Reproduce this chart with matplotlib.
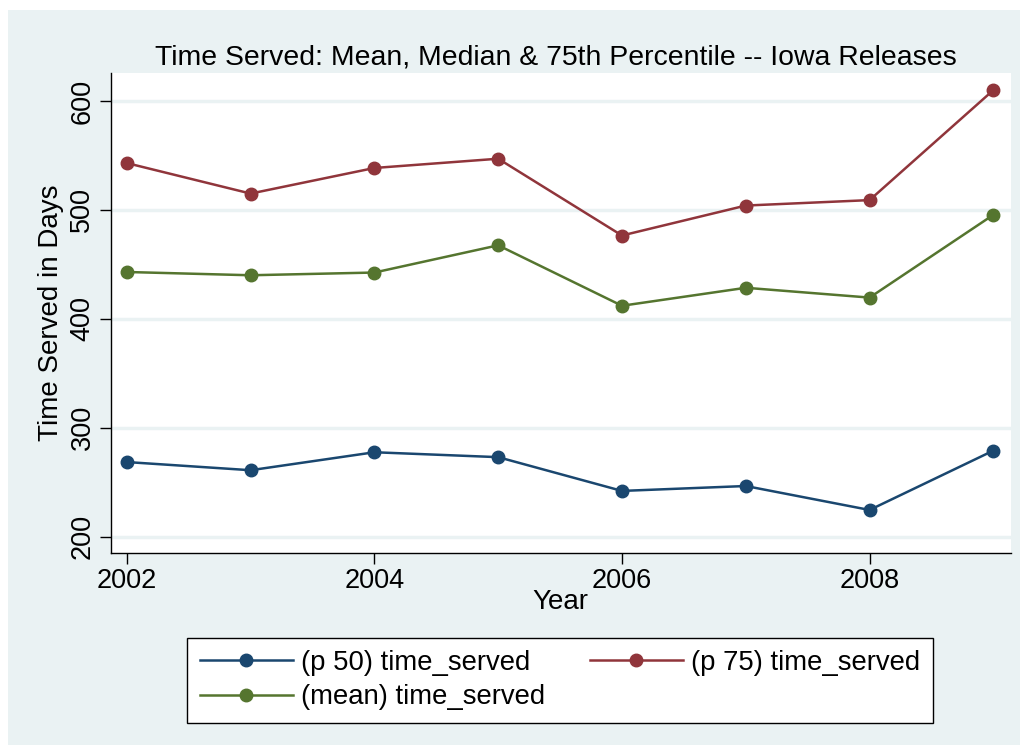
import numpy as np
import matplotlib.pyplot as plt
from matplotlib.patches import Rectangle

years = [2002, 2003, 2004, 2005, 2006, 2007, 2008, 2009]
p50 = [268.5, 261, 277.5, 273, 242, 246.5, 224.5, 279]
p75 = [543, 515, 538.5, 547, 476.5, 504, 509, 610]
mean_ts = [443, 440, 442.5, 467.5, 412, 428.5, 419.5, 495.5]

navy = '#1a476f'
maroon = '#90353b'
green = '#55752f'
bg = '#eaf2f3'

plt.rcParams['font.family'] = ['Liberation Sans', 'DejaVu Sans']

fig = plt.figure(figsize=(10.23, 7.51), dpi=100)
fig.patch.set_facecolor('white')
# stata-like outer graph region
fig.patches.append(Rectangle((8 / 1023, 1 - 745 / 751), (1020 - 8) / 1023, (745 - 10) / 751,
                             transform=fig.transFigure, facecolor=bg, edgecolor='none', zorder=-1))

ax = fig.add_axes([110.7 / 1023, 1 - 553 / 751, (1010.7 - 110.7) / 1023, (553 - 73) / 751])
ax.set_facecolor('white')

l50, = ax.plot(years, p50, '-o', color=navy, lw=1.8, ms=9, label='(p 50) time_served')
l75, = ax.plot(years, p75, '-o', color=maroon, lw=1.8, ms=9, label='(p 75) time_served')
lmn, = ax.plot(years, mean_ts, '-o', color=green, lw=1.8, ms=9, label='(mean) time_served')

ax.set_xlim(2001.87, 2009.14)
ax.set_ylim(185, 625.7)
ax.set_xticks([2002, 2004, 2006, 2008])
ax.set_yticks([200, 300, 400, 500, 600])
ax.grid(axis='y', color=bg, lw=2.5)
ax.set_axisbelow(True)

for s in ['top', 'right']:
    ax.spines[s].set_visible(False)
for s in ['left', 'bottom']:
    ax.spines[s].set_color('black')
    ax.spines[s].set_linewidth(1.0)

ax.tick_params(axis='both', direction='out', length=8, width=1, colors='black', labelsize=19.5)
ax.tick_params(axis='x', pad=3)
ax.tick_params(axis='y', pad=3)
for lab in ax.get_yticklabels():
    lab.set_rotation(90)
    lab.set_va('center')

ax.set_xlabel('Year', fontsize=20, labelpad=-4)
ax.set_ylabel('Time Served in Days', fontsize=20, labelpad=4)
ax.set_title('Time Served: Mean, Median & 75th Percentile -- Iowa Releases', fontsize=20.4, pad=6,
             x=0.495)

# order so rows read: p50, p75 / mean
leg = fig.legend(handles=[l50, lmn, l75], loc='center',
                 bbox_to_anchor=(560 / 1023, 1 - 680 / 751), ncol=2, fontsize=19.8,
                 frameon=True, fancybox=False, edgecolor='black', facecolor='white',
                 handlelength=3.4, columnspacing=1.6, borderpad=0.45, labelspacing=0.3,
                 handletextpad=0.3)
leg.get_frame().set_linewidth(1.0)
leg.get_frame().set_alpha(1)

fig.savefig('out.png', dpi=100, facecolor=fig.get_facecolor())
